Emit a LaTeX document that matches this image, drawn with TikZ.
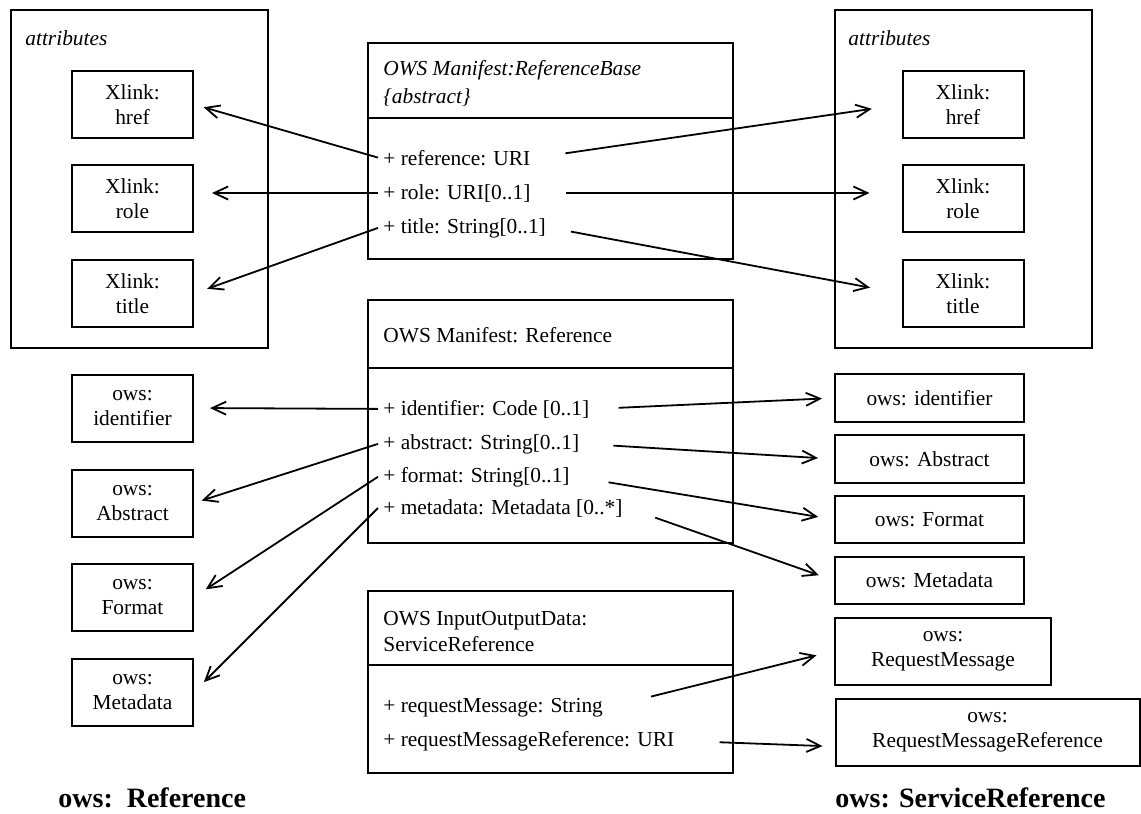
\documentclass[tikz,border=0pt]{standalone}
\usepackage{fontspec}
\setmainfont{Liberation Serif}
\usetikzlibrary{arrows.meta,calc,positioning}
\tikzset{assoc/.style={-{Straight Barb[length=7pt,width=6.5pt]},line width=.9pt},
         xbox/.style={draw,line width=1pt,align=center,inner sep=1pt,
                      minimum width=60.5pt,minimum height=33.5pt,
                      font=\fontsize{10.7}{12.5}\selectfont},
         owsbox/.style={xbox,minimum width=94.5pt,minimum height=23.75pt},
         member/.style={anchor=base west,inner xsep=2.5pt,inner ysep=0pt,
                        font=\fontsize{10.7}{12.5}\selectfont},
         hdr/.style={anchor=west,inner sep=0pt,align=left},
         umlbox/.style={draw,line width=1pt,minimum width=182.5pt},
         outerbox/.style={draw,line width=1pt,minimum width=128.5pt,minimum height=169pt},
         caption/.style={anchor=base west,inner sep=0pt,font=\fontsize{14}{16}\selectfont\bfseries}}

\begin{document}
\begin{tikzpicture}[x=.5pt,y=-.5pt]
  \useasboundingbox (0,0) rectangle (1141,814);
  % attribute frames
  \node[outerbox] (attL) at (139.5,179) {};
  \node[outerbox] (attR) at (963.5,179) {};
  \node[hdr,font=\fontsize{10.7}{12.5}\selectfont\itshape] (attLtxt) at (25,38) {attributes};
  \node[hdr,font=\fontsize{10.7}{12.5}\selectfont\itshape] (attRtxt) at (848,38) {attributes};
  \node[xbox] (hrefL) at (132.5,104.5) {Xlink:\\href};
  \node[xbox] (roleL) at (132.5,198.5) {Xlink:\\role};
  \node[xbox] (titleL) at (132.5,293.5) {Xlink:\\title};
  \node[xbox] (hrefR) at (963,104.5) {Xlink:\\href};
  \node[xbox] (roleR) at (963,198.5) {Xlink:\\role};
  \node[xbox] (titleR) at (963,293.5) {Xlink:\\title};
  % ows elements, left
  \node[xbox] (identL) at (132.5,408) {ows:\\identifier};
  \node[xbox] (absL) at (132.5,503) {ows:\\Abstract};
  \node[xbox] (fmtL) at (132.5,597) {ows:\\Format};
  \node[xbox] (metaL) at (132.5,692) {ows:\\Metadata};
  % ows elements, right
  \node[owsbox] (identR) at (929.5,398) {ows: identifier};
  \node[owsbox] (absR) at (929.5,459) {ows: Abstract};
  \node[owsbox] (fmtR) at (929.5,519.5) {ows: Format};
  \node[owsbox] (metaR) at (929.5,580.5) {ows: Metadata};
  \node[xbox,minimum width=108pt] (reqR) at (943,651) {ows:\\RequestMessage};
  \node[xbox,minimum width=152pt] (reqrefR) at (987.5,732.5) {ows:\\RequestMessageReference};
  % UML classes
  \node[umlbox,minimum height=108pt] (baseCls) at (550.5,151) {};
  \draw[line width=1pt] (baseCls.west |- 0,118) -- (baseCls.east |- 0,118);
  \node[hdr,font=\fontsize{10.7}{14}\selectfont\itshape] (baseHdr) at (383,83)
    {OWS Manifest:ReferenceBase\\\{abstract\}};
  \node[umlbox,minimum height=121.5pt] (refCls) at (550.5,421.5) {};
  \draw[line width=1pt] (refCls.west |- 0,368) -- (refCls.east |- 0,368);
  \node[hdr,font=\fontsize{10.7}{12.5}\selectfont] (refHdr) at (383,335) {OWS Manifest: Reference};
  \node[umlbox,minimum height=91pt] (srvCls) at (550.5,682) {};
  \draw[line width=1pt] (srvCls.west |- 0,665) -- (srvCls.east |- 0,665);
  \node[hdr,font=\fontsize{10.7}{13}\selectfont] (srvHdr) at (383,632)
    {OWS InputOutputData:\\ServiceReference};
  % members
  \node[member] (mRef) at (378,165) {+ reference: URI};
  \node[member] (mRole) at (378,199) {+ role: URI[0..1]};
  \node[member] (mTitle) at (378,233) {+ title: String[0..1]};
  \node[member] (mIdent) at (378,415) {+ identifier: Code [0..1]};
  \node[member] (mAbs) at (378,449) {+ abstract: String[0..1]};
  \node[member] (mFmt) at (378,482) {+ format: String[0..1]};
  \node[member] (mMeta) at (378,514) {+ metadata: Metadata [0..*]};
  \node[member] (mReq) at (378,712) {+ requestMessage: String};
  \node[member] (mReqRef) at (378,746) {+ requestMessageReference: URI};
  % mapping to the left
  \draw[assoc,shorten >=5pt] (mRef.west) -- (hrefL.east);
  \draw[assoc,shorten >=9pt] (mRole.west) -- (mRole.west -| roleL.east);
  \draw[assoc,shorten >=7pt] (mTitle.west) -- (titleL.east);
  \draw[assoc,shorten >=8pt] (mIdent.west) -- (identL.east);
  \draw[assoc,shorten >=4pt] (mAbs.west) -- (absL.east);
  \draw[assoc,shorten >=7pt] (mFmt.west) -- (fmtL.east);
  \draw[assoc,shorten >=7pt] (mMeta.west) -- (metaL.east);
  % mapping to the right
  \draw[assoc,shorten <=15pt,shorten >=15pt] (mRef.east) -- (hrefR.west);
  \draw[assoc,shorten <=15pt,shorten >=16pt] (mRole.east) -- (mRole.east -| roleR.west);
  \draw[assoc,shorten <=10pt,shorten >=16pt] (mTitle.east) -- (titleR.west);
  \draw[assoc,shorten <=12pt,shorten >=6pt] (mIdent.east) -- (identR.west);
  \draw[assoc,shorten <=14.5pt,shorten >=8pt] (mAbs.east) -- (absR.west);
  \draw[assoc,shorten <=17pt,shorten >=8pt] (mFmt.east) -- (fmtR.west);
  \draw[assoc,shorten <=14.5pt,shorten >=8pt] (mMeta.east) -- (metaR.west);
  \draw[assoc,shorten <=22pt,shorten >=9pt] (mReq.east) -- (reqR.west);
  \draw[assoc,shorten <=20pt,shorten >=6pt] (mReqRef.east) -- ([yshift=-7pt]reqrefR.west);
  % captions
  \node[caption] (capL) at (58,807) {ows:\ \ Reference};
  \node[caption] (capR) at (835,807) {ows: ServiceReference};
\end{tikzpicture}
\end{document}
